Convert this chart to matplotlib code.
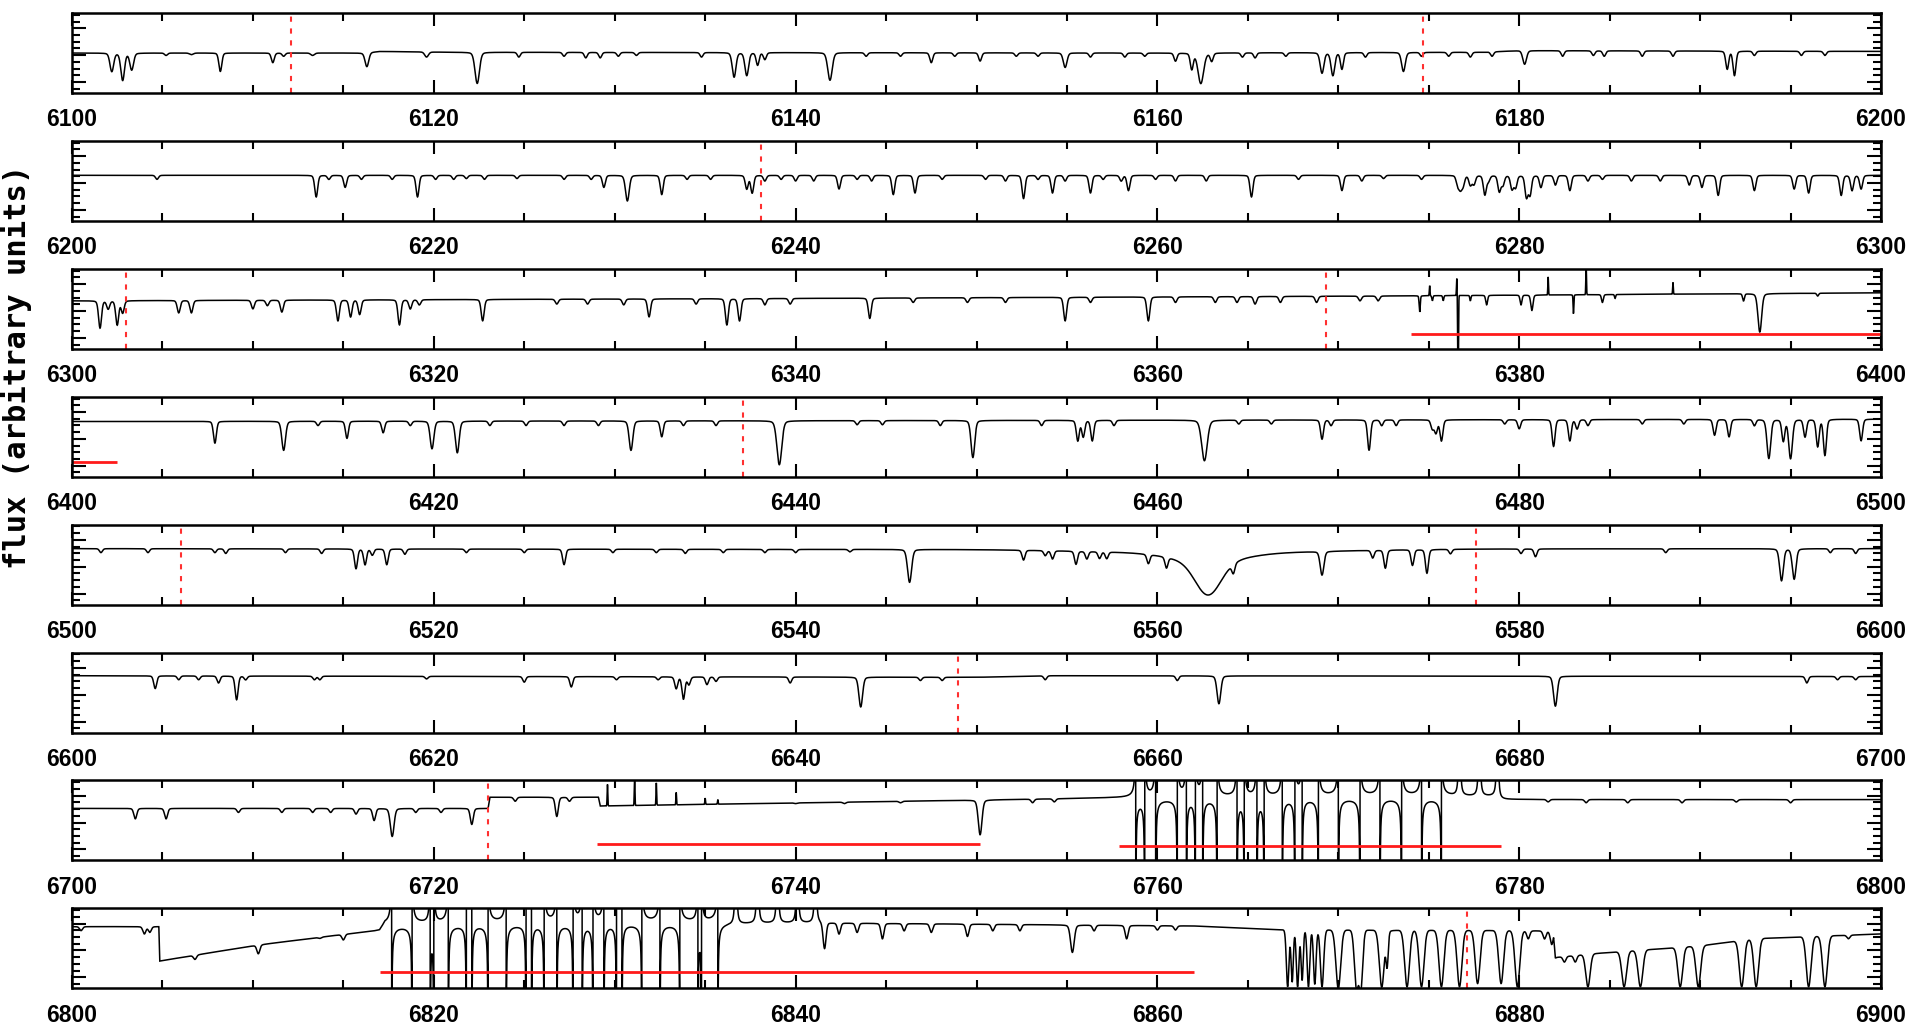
import numpy as np
import matplotlib
matplotlib.use("Agg")
import matplotlib.pyplot as plt
from matplotlib.ticker import MultipleLocator, FixedLocator

# ---------------- data ----------------
PANEL_STARTS = [6100, 6200, 6300, 6400, 6500, 6600, 6700, 6800]
Y_LABEL = "flux (arbitrary units)"

# continuum nodes (wavelength, level as fraction of panel height)
CONT_1 = [(6100, 0.50), (6116, 0.50), (6117, 0.52), (6121, 0.51), (6160, 0.50), (6178, 0.51), (6180, 0.53), (6200, 0.52)]
CONT_2 = [(6200, 0.57), (6300, 0.57)]
CONT_3 = [(6300, 0.60), (6340, 0.63), (6372, 0.66), (6400, 0.70)]
CONT_4 = [(6400, 0.69), (6440, 0.70), (6500, 0.72)]
CONT_5 = [(6500, 0.70), (6540, 0.69), (6600, 0.70)]
CONT_6 = [(6600, 0.71), (6650, 0.69), (6654, 0.71), (6700, 0.70)]
CONT_7 = [(6700, 0.65), (6723.0, 0.65), (6723.1, 0.79), (6729.1, 0.79), (6729.2, 0.68),
          (6757.5, 0.78), (6778.8, 0.80), (6778.9, 0.76), (6800, 0.76)]
CONT_8 = [(6800, 0.77), (6804.8, 0.77), (6804.85, 0.34), (6807, 0.42), (6810.3, 0.54), (6815, 0.67),
          (6817.0, 0.71), (6817.3, 0.80), (6841, 0.82), (6862, 0.78), (6867, 0.73), (6881.9, 0.72),
          (6882.0, 0.39), (6884.5, 0.44), (6890, 0.53), (6893, 0.62), (6900, 0.68)]

# absorption lines (wavelength, bottom level[, gaussian sigma])
LINES_1 = [(6102.2, 0.27, .1), (6102.8, 0.16, .1), (6103.3, 0.29, .1), (6105.2, 0.47), (6106.6, 0.48, .1),
           (6108.2, 0.27), (6111.1, 0.38), (6111.7, 0.46), (6113.3, 0.47, .1), (6116.3, 0.33, .1),
           (6119.6, 0.45, .1), (6122.4, 0.12, .12), (6124.7, 0.45), (6127.2, 0.46), (6128.4, 0.44),
           (6129.2, 0.44), (6130.2, 0.46), (6131.2, 0.47), (6134.8, 0.45), (6136.6, 0.20, .1),
           (6137.3, 0.22, .1), (6137.9, 0.35), (6138.3, 0.42), (6141.9, 0.16, .12), (6143.9, 0.46),
           (6145.8, 0.46), (6147.5, 0.38), (6148.8, 0.46), (6150.2, 0.40), (6152.2, 0.46), (6153.4, 0.46),
           (6154.9, 0.32, .1), (6156.3, 0.45), (6158.2, 0.45), (6159.3, 0.46), (6161.0, 0.40),
           (6161.9, 0.30), (6162.4, 0.12, .15), (6163.0, 0.40), (6164.7, 0.45), (6165.4, 0.44),
           (6167.1, 0.46), (6169.1, 0.25, .1), (6169.7, 0.22, .1), (6170.2, 0.30), (6171.5, 0.45),
           (6173.6, 0.27, .1), (6174.6, 0.46), (6176.1, 0.46), (6177.3, 0.45), (6178.5, 0.46),
           (6180.3, 0.36, .1), (6182.4, 0.46), (6184.1, 0.47), (6184.7, 0.46), (6186.8, 0.46),
           (6188.5, 0.46), (6191.5, 0.30), (6191.9, 0.22), (6193.0, 0.47), (6195.6, 0.47), (6196.9, 0.47)]
LINES_2 = [(6204.7, 0.52), (6213.5, 0.30), (6214.2, 0.52), (6215.1, 0.42), (6216.0, 0.52), (6217.7, 0.52),
           (6219.1, 0.30), (6220.1, 0.52), (6221.1, 0.52), (6221.8, 0.53), (6222.8, 0.52), (6224.6, 0.53),
           (6227.2, 0.52), (6228.7, 0.52), (6229.4, 0.42), (6230.7, 0.25, .1), (6232.6, 0.33),
           (6234.0, 0.52), (6235.3, 0.52), (6237.3, 0.40), (6237.6, 0.35), (6238.3, 0.50), (6239.2, 0.52),
           (6240.0, 0.50), (6241.0, 0.50), (6242.4, 0.40), (6243.4, 0.52), (6244.2, 0.50), (6245.4, 0.33),
           (6246.6, 0.35), (6248.1, 0.52), (6250.5, 0.52), (6251.6, 0.50), (6252.6, 0.28), (6253.4, 0.52),
           (6254.2, 0.35), (6254.9, 0.50), (6256.3, 0.35), (6257.0, 0.52), (6258.0, 0.50), (6258.4, 0.38),
           (6259.9, 0.52), (6261.0, 0.50), (6262.7, 0.50), (6265.2, 0.30), (6267.8, 0.52), (6270.2, 0.38),
           (6271.3, 0.50), (6272.5, 0.53), (6274.6, 0.52), (6276.6, 0.45), (6276.75, 0.42), (6276.9, 0.45),
           (6277.3, 0.45), (6277.5, 0.46), (6278.1, 0.33), (6278.3, 0.50), (6278.9, 0.37), (6279.1, 0.45),
           (6279.6, 0.40), (6279.8, 0.42), (6280.4, 0.30), (6280.6, 0.33), (6281.2, 0.42), (6282.0, 0.45),
           (6282.8, 0.38), (6283.8, 0.50), (6284.6, 0.52), (6286.2, 0.50), (6287.8, 0.50), (6289.4, 0.45),
           (6290.1, 0.42), (6291.0, 0.32), (6293.0, 0.38), (6295.2, 0.40), (6296.0, 0.35), (6297.8, 0.32),
           (6298.4, 0.38), (6298.9, 0.40)]
LINES_3 = [(6301.55, 0.26), (6302.0, 0.50), (6302.5, 0.30), (6302.8, 0.45), (6305.9, 0.45), (6306.6, 0.45),
           (6310.0, 0.50), (6310.8, 0.54), (6311.6, 0.46), (6314.7, 0.35), (6315.4, 0.40), (6315.9, 0.43),
           (6318.1, 0.30), (6318.7, 0.50), (6319.2, 0.55), (6322.7, 0.35), (6326.8, 0.56), (6328.5, 0.56),
           (6330.5, 0.55), (6331.9, 0.40), (6334.5, 0.56), (6336.2, 0.30), (6336.9, 0.35), (6338.3, 0.55),
           (6339.7, 0.56), (6344.1, 0.38), (6346.5, 0.58), (6349.5, 0.58), (6351.6, 0.58), (6354.9, 0.35),
           (6356.3, 0.58), (6359.5, 0.35), (6361.0, 0.58), (6363.2, 0.58), (6364.4, 0.58), (6365.4, 0.56),
           (6366.8, 0.58), (6368.8, 0.58), (6371.2, 0.60), (6372.2, 0.60), (6374.5, 0.46, .03),
           (6375.2, 0.60, .03), (6375.8, 0.60, .03), (6376.62, -0.6, .02), (6377.3, 0.60, .03),
           (6378.2, 0.55, .05), (6380.1, 0.55, .05), (6380.7, 0.48, .06), (6383.0, 0.44, .02),
           (6384.6, 0.58, .05), (6385.3, 0.63, .03), (6392.4, 0.60, .05), (6393.3, 0.21, .1), (6396.5, 0.66, .05)]
LINES_4 = [(6407.9, 0.42), (6411.7, 0.33, .1), (6413.6, 0.64), (6415.2, 0.48), (6417.2, 0.55), (6418.7, 0.64),
           (6419.9, 0.35, .1), (6421.3, 0.30, .1), (6423.1, 0.64), (6425.1, 0.64), (6427.2, 0.64),
           (6429.1, 0.64), (6430.9, 0.33, .1), (6432.6, 0.50), (6433.8, 0.64), (6435.6, 0.64),
           (6439.1, 0.15, .13), (6443.4, 0.65), (6444.8, 0.65), (6448.0, 0.64), (6449.8, 0.24, .1),
           (6453.6, 0.64), (6455.6, 0.45), (6455.9, 0.50), (6456.4, 0.45), (6457.6, 0.64), (6462.6, 0.20, .15),
           (6464.5, 0.66), (6466.3, 0.66), (6469.1, 0.47), (6469.6, 0.64), (6471.7, 0.33), (6472.4, 0.64),
           (6473.2, 0.64), (6475.2, 0.60), (6475.4, 0.55), (6475.7, 0.45), (6479.2, 0.66), (6480.0, 0.60),
           (6481.9, 0.38), (6482.8, 0.45), (6483.2, 0.60), (6483.8, 0.64), (6486.8, 0.66), (6489.1, 0.66),
           (6490.8, 0.52), (6491.6, 0.50), (6493.0, 0.64), (6493.8, 0.23, .1), (6494.6, 0.45),
           (6495.0, 0.23, .1), (6495.8, 0.50), (6496.5, 0.38), (6496.9, 0.27), (6498.9, 0.45)]
LINES_5 = [(6501.6, 0.65), (6504.2, 0.65), (6507.9, 0.65), (6508.5, 0.64), (6511.8, 0.65), (6513.8, 0.64),
           (6515.7, 0.45), (6516.2, 0.50), (6516.6, 0.62), (6517.4, 0.50), (6518.4, 0.63), (6521.8, 0.65),
           (6525.0, 0.65), (6527.2, 0.50), (6529.9, 0.65), (6532.3, 0.65), (6533.9, 0.64), (6536.0, 0.65),
           (6538.3, 0.65), (6540.0, 0.65), (6543.0, 0.66), (6546.3, 0.28, .11), (6552.6, 0.57),
           (6553.8, 0.63), (6554.2, 0.59), (6555.5, 0.53), (6556.1, 0.60), (6556.8, 0.61), (6557.2, 0.61),
           (6559.5, 0.58), (6560.5, 0.56), (6562.8, 0.27, 0.7), (6564.2, 0.58), (6569.1, 0.40, .1),
           (6571.9, 0.60), (6572.6, 0.47), (6574.1, 0.50), (6574.9, 0.40), (6576.2, 0.64), (6580.1, 0.64),
           (6580.9, 0.60), (6588.1, 0.65), (6594.5, 0.30, .1), (6595.2, 0.32, .1), (6597.2, 0.65), (6598.6, 0.64)]
LINES_6 = [(6604.6, 0.55), (6605.9, 0.66), (6607.0, 0.66), (6608.1, 0.62), (6609.1, 0.41), (6609.6, 0.66),
           (6613.4, 0.66), (6613.7, 0.66), (6619.6, 0.67), (6625.0, 0.63), (6627.6, 0.57), (6630.1, 0.66),
           (6632.4, 0.66), (6633.4, 0.55), (6633.8, 0.42), (6634.1, 0.60), (6635.1, 0.60), (6635.6, 0.64),
           (6639.7, 0.62), (6643.6, 0.32, .1), (6646.9, 0.65), (6648.1, 0.65), (6653.8, 0.66), (6661.1, 0.65),
           (6663.4, 0.36, .1), (6682.0, 0.33, .1), (6695.9, 0.62), (6697.6, 0.66), (6698.6, 0.66)]
LINES_7 = [(6703.5, 0.52), (6705.2, 0.52), (6709.2, 0.60), (6711.6, 0.60), (6713.3, 0.60), (6714.3, 0.60),
           (6715.7, 0.58), (6716.7, 0.50), (6717.7, 0.30, .1), (6719.0, 0.60), (6720.4, 0.60), (6722.1, 0.45),
           (6724.5, 0.74), (6726.8, 0.55), (6727.5, 0.74), (6740.0, 0.71), (6742.7, 0.71), (6745.8, 0.72),
           (6750.2, 0.32, .1), (6753.1, 0.72), (6754.3, 0.73), (6781.6, 0.73), (6783.7, 0.72), (6786.0, 0.72),
           (6789.0, 0.72), (6792.0, 0.73), (6795.0, 0.72)]
LINES_8 = [(6800.5, 0.72), (6804.0, 0.68), (6804.3, 0.70), (6806.8, 0.36), (6810.3, 0.43), (6813.7, 0.62),
           (6815.0, 0.60), (6841.6, 0.49), (6842.4, 0.68), (6843.4, 0.70), (6844.8, 0.62), (6846.0, 0.72),
           (6847.5, 0.70), (6849.5, 0.65), (6850.9, 0.72), (6852.4, 0.72), (6855.3, 0.45, .1), (6856.5, 0.72),
           (6858.3, 0.62), (6860.0, 0.73), (6861.0, 0.73),
           (6867.2, 0.02, .07), (6867.45, 0.08, .06), (6867.75, 0.02, .07), (6868.0, 0.1, .06), (6868.35, 0.02, .07),
           (6868.7, 0.05, .07), (6869.1, 0.02, .09), (6870.0, 0.0, .13), (6871.0, 0.02, .11), (6871.25, 0.02, .1),
           (6872.4, 0.02, .13), (6872.7, 0.3, .06), (6873.8, 0.02, .13), (6874.6, 0.02, .13),
           (6875.7, 0.02, .13), (6876.7, 0.02, .13), (6877.7, 0.06, .13), (6879.0, 0.06, .13),
           (6879.9, 0.02, .13), (6880.5, 0.62), (6881.4, 0.62), (6881.8, 0.55), (6882.5, 0.33), (6883.1, 0.33),
           (6883.8, 0.02, .12), (6885.8, 0.02, .13), (6886.7, 0.02, .13), (6888.9, 0.02, .13), (6889.9, 0.02, .13),
           (6892.3, 0.02, .13), (6893.1, 0.02, .13), (6896.0, 0.02, .13), (6896.9, 0.02, .13), (6898.2, 0.62)]

# narrow emission spikes (wavelength, peak level)
SPIKES_3 = [(6375.05, 0.79), (6376.55, 0.88), (6381.6, 0.90), (6383.7, 1.05), (6388.5, 0.83)]
SPIKES_7 = [(6729.6, 0.95), (6731.1, 1.05), (6732.3, 0.97), (6733.4, 0.85), (6735.0, 0.78), (6735.7, 0.76)]

# over-corrected telluric band: positions of the divergent features
BAND_7 = [6758.8, 6759.3, 6759.9, 6761.1, 6761.6, 6762.1, 6762.5, 6763.3, 6764.4, 6764.8, 6765.5, 6765.9,
          6766.9, 6767.6, 6768.0, 6768.9, 6770.0, 6771.2, 6772.3, 6773.5, 6774.6, 6775.7]
BAND_8 = [6817.67, 6818.8, 6819.8, 6820.0, 6820.8, 6821.8, 6822.1, 6823.0, 6824.0, 6825.1, 6825.4, 6826.1,
          6826.8, 6827.7, 6828.2, 6828.8, 6829.4, 6830.1, 6830.4, 6831.5, 6832.5, 6833.6, 6834.6, 6834.8, 6835.7]
CUSPS_7 = [6776.7, 6777.8, 6778.8]
CUSPS_8 = [6836.7, 6837.9, 6839.0, 6840.1, 6841.1]

# broad H-alpha wings (wavelength, depth, sigma)
BROAD_5 = [(6562.8, 0.05, 6.0), (6562.8, 0.10, 1.8)]

# red dotted vertical markers
RED_DOTS = [[6112.1, 6174.7], [6238.1], [6303.0, 6369.3], [6437.1], [6506.0, 6577.6], [6649.0], [6723.0], [6877.1]]
# red horizontal segments (start, end, level)
RED_SEGS = [[], [], [(6374.0, 6400.0, 0.19)], [(6400.0, 6402.5, 0.18)], [], [],
            [(6729.0, 6750.2, 0.20), (6757.9, 6779.0, 0.18)], [(6817.0, 6862.0, 0.20)]]

CONTS = [CONT_1, CONT_2, CONT_3, CONT_4, CONT_5, CONT_6, CONT_7, CONT_8]
LINES = [LINES_1, LINES_2, LINES_3, LINES_4, LINES_5, LINES_6, LINES_7, LINES_8]
SPIKES = [[], [], SPIKES_3, [], [], [], SPIKES_7, []]
BANDS = [[], [], [], [], [], [], BAND_7, BAND_8]
CUSPS = [[], [], [], [], [], [], CUSPS_7, CUSPS_8]
BROADS = [[], [], [], [], BROAD_5, [], [], []]


def spectrum(lam, cont_nodes, lines, spikes, band, cusps, broad):
    cw = np.array([c[0] for c in cont_nodes], float)
    cl = np.array([c[1] for c in cont_nodes], float)
    cont = np.interp(lam, cw, cl)
    f = cont.copy()
    for ln in lines:
        wl, lev = ln[0], ln[1]
        sig = ln[2] if len(ln) > 2 else 0.08
        depth = np.interp(wl, cw, cl) - lev
        x = lam - wl
        lfrac = 0.15 if lev > 0.1 else 0.0
        prof = (1 - lfrac) * np.exp(-0.5 * (x / sig) ** 2) + lfrac / (1 + (x / (1.5 * sig)) ** 2)
        f -= depth * prof
    for wl, peak in spikes:
        amp = peak - np.interp(wl, cw, cl)
        f += amp * np.exp(-0.5 * ((lam - wl) / 0.018) ** 2)
    for wl, dep, sig in broad:
        f -= dep * np.exp(-0.5 * ((lam - wl) / sig) ** 2)
    s = -1.0
    for wl in band:
        x = lam - wl
        f += s * 0.02 * x / (x ** 2 + 0.003 ** 2)
        s = -s
    for wl in cusps:
        x = lam - wl
        f += 0.002 / (x ** 2 + 1e-5)
    return f


fig = plt.figure(figsize=(19.2, 10.26), dpi=100)
W, H = 1920.0, 1026.0
left_px, right_px = 72.0, 1881.0
panel_h = 80.0

for i, start in enumerate(PANEL_STARTS):
    top_px = 13.0 + 127.9 * i
    ax = fig.add_axes([left_px / W, 1 - (top_px + panel_h) / H, (right_px - left_px) / W, panel_h / H])
    lam = np.arange(start, start + 100.0001, 0.004) + 0.0013
    flux = spectrum(lam, CONTS[i], LINES[i], SPIKES[i], BANDS[i], CUSPS[i], BROADS[i])
    ax.plot(lam, flux, color="black", lw=1.1, solid_joinstyle="miter")
    for xd in RED_DOTS[i]:
        ax.axvline(xd, color="#ff3030", lw=1.5, dashes=(2.5, 3.2))
    for x0, x1, yv in RED_SEGS[i]:
        ax.hlines(yv, x0, x1, color="#ff1a1a", lw=2.0)
    ax.set_xlim(start, start + 100)
    ax.set_ylim(0, 1)
    ax.xaxis.set_major_locator(MultipleLocator(20))
    ax.xaxis.set_minor_locator(MultipleLocator(5))
    ax.yaxis.set_major_locator(FixedLocator([0.137, 0.473, 0.809]))
    ax.yaxis.set_minor_locator(FixedLocator([0.137 + 0.084 * k - 0.084 for k in range(13)]))
    ax.tick_params(axis="both", which="both", direction="in", top=True, right=True, width=1.5)
    ax.tick_params(axis="x", which="major", length=9.5, pad=11)
    ax.tick_params(axis="x", which="minor", length=5.8)
    ax.tick_params(axis="y", which="major", length=10)
    ax.tick_params(axis="y", which="minor", length=6)
    ax.set_yticklabels([])
    ax.set_xticks(np.arange(start, start + 101, 20))
    ax.set_xticklabels([str(v) for v in range(start, start + 101, 20)],
                       fontsize=16.5, fontweight="bold", family=["Liberation Sans", "DejaVu Sans"])
    for sp in ax.spines.values():
        sp.set_linewidth(1.8)

fig.text(17 / W, 1 - 367 / H, Y_LABEL, rotation=90, ha="center", va="center",
         fontsize=22, fontweight="bold", family=["DejaVu Sans Mono"])

fig.savefig("out.png", dpi=100)
